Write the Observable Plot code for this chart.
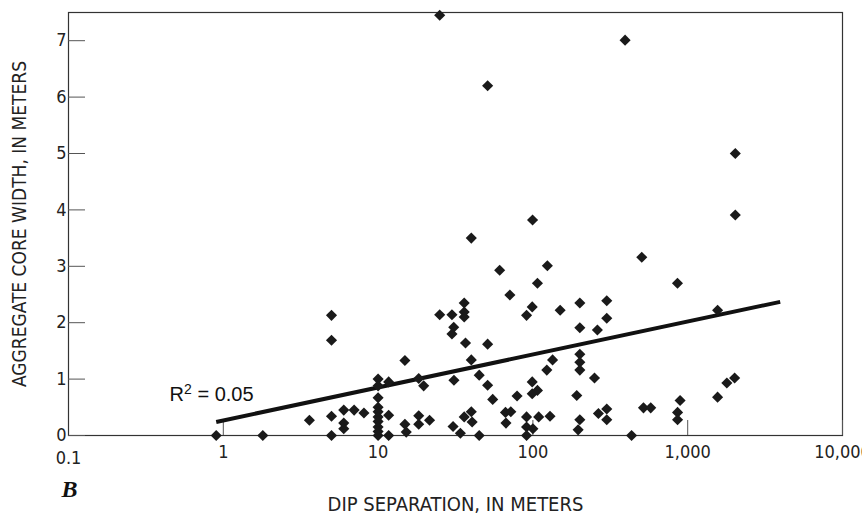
<!DOCTYPE html>
<html><head><meta charset="utf-8">
<script src="https://cdn.jsdelivr.net/npm/d3@7"></script>
<script src="https://cdn.jsdelivr.net/npm/@observablehq/plot@0.6"></script>
<style>
body{margin:0;background:#fff;}
</style>
</head><body><div id="chart"></div>
<script>
const dipSeparation = [0.9,1.8,3.6,5,5,5,5,6,6,6,7,8.1,
  10,10,10,10,10,10,10,10,10,10,11.7,11.7,11.7,14.9,14.9,15.2,18.3,19.7,18.3,18.3,21.5,
  25,25,30,30.8,30,30.9,30.5,34,36,36,36,36.7,36,40,40,40,40.5,45,45,51,51,51,55,61,
  66.5,72,67,71,79,91,91,91,91,99.5,99,99,99,100,107,107,109,124,123,129,134,150,192,
  201,201,201,201,201,201,196,250,261,265,300,300,300,300,394,434,505,518,577,859,893,860,860,
  1560,1560,1790,2010,2030,2030];
const coreWidth = [0,0,0.27,2.13,1.69,0.34,0,0.45,0.22,0.12,0.45,0.4,
  1.0,0.88,0.67,0.5,0.42,0.33,0.25,0.15,0.07,0,0.95,0.36,0,1.33,0.2,0.06,1.01,0.88,0.35,0.2,0.27,
  7.45,2.14,2.14,1.92,1.8,0.98,0.16,0.04,2.35,2.19,2.1,1.64,0.33,3.5,1.34,0.42,0.24,1.07,0,6.2,1.62,0.89,0.64,2.93,
  0.41,0.42,0.22,2.49,0.7,2.13,0.33,0.15,0,3.82,2.28,0.95,0.74,0.12,2.7,0.8,0.33,3.01,1.16,0.34,1.34,2.22,0.71,
  2.35,1.91,1.44,1.3,1.16,0.28,0.1,1.02,1.87,0.39,2.39,2.08,0.47,0.28,7.01,0,3.16,0.49,0.49,2.7,0.62,0.41,0.28,
  2.22,0.68,0.93,1.02,5.0,3.91];
const xTicks = [0.1,1,10,100,1000,10000];
const xTickLabels = ["0.1","1","10","100","1,000","10,000"];
const yTicks = [0,1,2,3,4,5,6,7];
const fitX = [0.9,3960];
const fitY = [0.24,2.37];
const xTitle = "DIP SEPARATION, IN METERS";
const yTitle = "AGGREGATE CORE WIDTH, IN METERS";
const panelLabel = "B";
const r2Label = "R² = 0.05";

const points = dipSeparation.map((d,i)=>({x:d,y:coreWidth[i]}));
const fit = fitX.map((d,i)=>({x:d,y:fitY[i]}));
const condensed = "'Liberation Sans Narrow','DejaVu Sans Condensed','Arial Narrow',sans-serif";
const fmtX = d => xTickLabels[xTicks.indexOf(d)];

const chart = Plot.plot({
  width: 862, height: 514,
  marginLeft: 68, marginRight: 20, marginTop: 12, marginBottom: 79,
  style: {fontFamily: condensed, background: "#fff", color: "#222", overflow: "visible"},
  x: {type: "log", domain: [0.1,10000]},
  y: {domain: [0,7.5]},
  marks: [
    Plot.frame({stroke: "#333", strokeWidth: 1.2}),
    Plot.axisY(yTicks, {tickSize: -17, tickPadding: 19, fontSize: 18, stroke: "#555", label: null, tickFormat: d => String(d)}),
    Plot.axisX(xTicks.filter(d => d !== 0.1), {tickSize: -15, tickPadding: 25, fontSize: 18, stroke: "#555", label: null, tickFormat: fmtX}),
    Plot.axisX([0.1], {tickSize: 0, tickPadding: 16, fontSize: 18, label: null, tickFormat: fmtX}),
    Plot.line(fit, {x: "x", y: "y", stroke: "#111", strokeWidth: 4, strokeLinecap: "butt"}),
    Plot.dot(points, {x: "x", y: "y", symbol: "diamond2", r: 5, fill: "#1a1a1a", stroke: "none"}),
    Plot.text([r2Label], {x: [0.45], y: [0.73], text: d => d, textAnchor: "start", fontSize: 20, fontFamily: "'Liberation Sans',Arial,sans-serif", fill: "#111"}),
    Plot.text([xTitle], {frameAnchor: "bottom", dy: 75, text: d => d, textAnchor: "middle", fontSize: 20, fill: "#222"}),
    Plot.text([yTitle], {frameAnchor: "left", dx: -49, rotate: -90, text: d => d, textAnchor: "middle", fontSize: 19, fill: "#222"}),
    Plot.text([panelLabel], {frameAnchor: "bottom-left", dx: -7, dy: 61, textAnchor: "start", text: d => d, fontSize: 24, fontWeight: "bold", fontStyle: "italic", fontFamily: "'Liberation Serif','Times New Roman',serif", fill: "#111"})
  ]
});
document.getElementById("chart").appendChild(chart);
// superscript for R²
chart.querySelectorAll("text").forEach(t => {
  if (t.textContent === r2Label) {
    const parts = r2Label.split("²");
    t.textContent = "";
    const ns = "http://www.w3.org/2000/svg";
    const a = document.createElementNS(ns, "tspan"); a.textContent = parts[0];
    const b = document.createElementNS(ns, "tspan"); b.textContent = "2"; b.setAttribute("dy", "-7"); b.setAttribute("font-size", "14");
    const c = document.createElementNS(ns, "tspan"); c.textContent = parts[1]; c.setAttribute("dy", "7");
    t.append(a, b, c);
  }
});
</script>
</body></html>
